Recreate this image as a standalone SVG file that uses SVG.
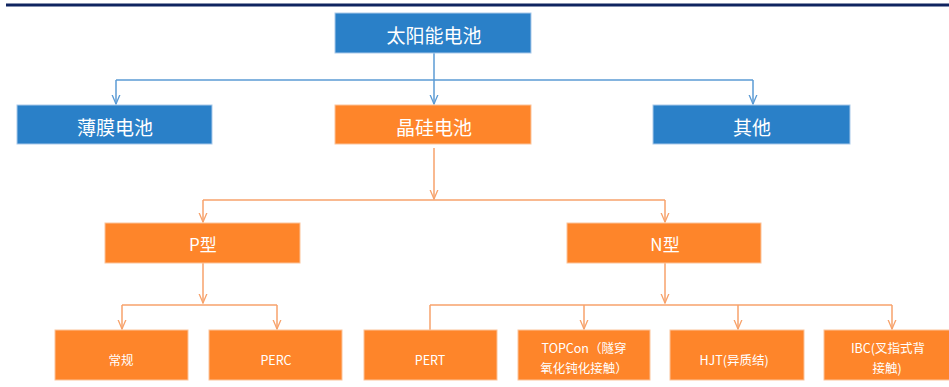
<svg xmlns="http://www.w3.org/2000/svg" width="949" height="387" viewBox="0 0 949 387">
<defs>
<style>
.blue{fill:#2a80c8;stroke:#a9c9ea;stroke-width:1}
.orange{fill:#fe852a;stroke:#fcc39a;stroke-width:1}
.t{font-family:"Noto Sans CJK SC","Noto Sans",sans-serif;fill:#fff;text-anchor:middle;dominant-baseline:central}
.big{font-size:19px}
.mid{font-size:17px}
.small{font-size:12.5px}
.cb{fill:none;stroke:#5b9bd5;stroke-width:1.5}
.co{fill:none;stroke:#f7a26b;stroke-width:1.5}
</style>
<marker id="ab" viewBox="0 0 10 10" refX="9.5" refY="5" markerWidth="10" markerHeight="10" orient="auto" markerUnits="userSpaceOnUse">
<path d="M0,1 L9.5,5 L0,9" fill="none" stroke="#5b9bd5" stroke-width="1.3"/>
</marker>
<marker id="ao" viewBox="0 0 10 10" refX="9.5" refY="5" markerWidth="10" markerHeight="10" orient="auto" markerUnits="userSpaceOnUse">
<path d="M0,1 L9.5,5 L0,9" fill="none" stroke="#f7a26b" stroke-width="1.3"/>
</marker>
</defs>
<rect width="949" height="387" fill="#fff"/>
<line x1="6" y1="5" x2="949" y2="5" stroke="#0f2460" stroke-width="3"/>

<g id="connectors">
<path class="cb" d="M434,53 V80"/>
<path class="cb" d="M116,80 H753"/>
<path class="cb" d="M434,80 V104" marker-end="url(#ab)"/>
<path class="cb" d="M116,80 V104" marker-end="url(#ab)"/>
<path class="cb" d="M753,80 V104" marker-end="url(#ab)"/>

<path class="co" d="M434,148 V199" marker-end="url(#ao)"/>
<path class="co" d="M203,200 H665"/>
<path class="co" d="M203,200 V222" marker-end="url(#ao)"/>
<path class="co" d="M665,200 V222" marker-end="url(#ao)"/>

<path class="co" d="M203,263 V303" marker-end="url(#ao)"/>
<path class="co" d="M122,305 H277"/>
<path class="co" d="M122,305 V329" marker-end="url(#ao)"/>
<path class="co" d="M277,305 V329" marker-end="url(#ao)"/>

<path class="co" d="M665,263 V303" marker-end="url(#ao)"/>
<path class="co" d="M430,305 H892"/>
<path class="co" d="M430,305 V330"/>
<path class="co" d="M584,305 V329" marker-end="url(#ao)"/>
<path class="co" d="M738,305 V329" marker-end="url(#ao)"/>
<path class="co" d="M892,305 V329" marker-end="url(#ao)"/>
</g>

<g id="n-solar"><rect class="blue" x="335" y="13" width="196" height="40"/><text class="t big" x="434" y="34">太阳能电池</text></g>
<g id="n-thinfilm"><rect class="blue" x="17" y="105" width="195" height="39"/><text class="t big" x="115" y="126">薄膜电池</text></g>
<g id="n-crystal"><rect class="orange" x="335" y="105" width="196" height="39"/><text class="t big" x="434" y="126">晶硅电池</text></g>
<g id="n-other"><rect class="blue" x="653" y="105" width="197" height="39"/><text class="t big" x="752" y="126">其他</text></g>

<g id="n-p"><rect class="orange" x="105" y="223" width="195" height="40"/><text class="t mid" x="203" y="243">P型</text></g>
<g id="n-n"><rect class="orange" x="567" y="223" width="194" height="40"/><text class="t mid" x="665" y="243">N型</text></g>

<g id="n-conv"><rect class="orange" x="55" y="330" width="133" height="50"/><text class="t small" x="121" y="359">常规</text></g>
<g id="n-perc"><rect class="orange" x="209" y="330" width="133" height="50"/><text class="t small" x="276" y="359">PERC</text></g>
<g id="n-pert"><rect class="orange" x="364" y="330" width="133" height="50"/><text class="t small" x="430" y="359">PERT</text></g>
<g id="n-topcon"><rect class="orange" x="518" y="330" width="132" height="50"/><text class="t small" x="584" y="347">TOPCon（隧穿</text><text class="t small" x="584" y="367">氧化钝化接触）</text></g>
<g id="n-hjt"><rect class="orange" x="670" y="330" width="134" height="50"/><text class="t small" x="734" y="359">HJT(异质结)</text></g>
<g id="n-ibc"><rect class="orange" x="824" y="330" width="134" height="50"/><text class="t small" x="888" y="347">IBC(叉指式背</text><text class="t small" x="887" y="367">接触)</text></g>
</svg>
